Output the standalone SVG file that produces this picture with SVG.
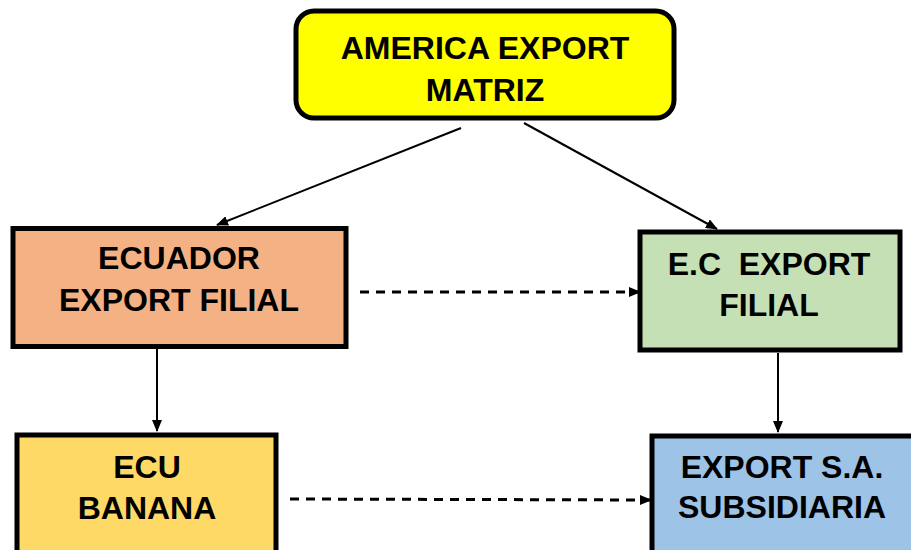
<svg xmlns="http://www.w3.org/2000/svg" width="911" height="550" viewBox="0 0 911 550">
<defs>
<marker id="ah" markerUnits="userSpaceOnUse" markerWidth="12" markerHeight="10" refX="11" refY="5" orient="auto">
<path d="M0,0 L12,5 L0,10 z" fill="#000"/>
</marker>
<style>
.box{stroke:#000;stroke-width:5}
.t{font-family:"Liberation Sans",Arial,sans-serif;font-weight:bold;font-size:32px;fill:#000;text-anchor:middle}
.c{stroke:#000;stroke-width:2;fill:none;marker-end:url(#ah)}
.d{stroke-dasharray:9,7;stroke-width:3}
</style>
</defs>
<rect width="911" height="550" fill="#fff"/>
<g id="connectors">
<line class="c" x1="461" y1="128" x2="217" y2="225"/>
<line class="c" x1="524" y1="123" x2="717" y2="229"/>
<line class="c d" x1="360" y1="292" x2="640" y2="292"/>
<line class="c" x1="157" y1="349" x2="157" y2="431"/>
<line class="c" x1="778" y1="353" x2="778" y2="432"/>
<line class="c d" x1="290" y1="499" x2="651" y2="500"/>
</g>
<g id="america">
<rect class="box" x="296" y="11" width="378" height="107" rx="18" fill="#FFFF00"/>
<text class="t" x="485" y="59">AMERICA EXPORT</text>
<text class="t" x="485" y="101">MATRIZ</text>
</g>
<g id="ecuador">
<rect class="box" x="13" y="228.5" width="333" height="118" fill="#F4B183"/>
<text class="t" x="179" y="269">ECUADOR</text>
<text class="t" x="179" y="311">EXPORT FILIAL</text>
</g>
<g id="ec">
<rect class="box" x="640" y="232" width="260" height="118" fill="#C5E0B4"/>
<text class="t" x="769" y="275" xml:space="preserve" style="white-space:pre">E.C  EXPORT</text>
<text class="t" x="769" y="316">FILIAL</text>
</g>
<g id="ecu">
<rect class="box" x="17" y="435" width="259" height="130" fill="#FFD966"/>
<text class="t" x="147" y="478">ECU</text>
<text class="t" x="147" y="519">BANANA</text>
</g>
<g id="exportsa">
<rect class="box" x="652" y="436" width="270" height="130" fill="#9DC3E6"/>
<text class="t" x="782" y="478">EXPORT S.A.</text>
<text class="t" x="782" y="518">SUBSIDIARIA</text>
</g>
</svg>
